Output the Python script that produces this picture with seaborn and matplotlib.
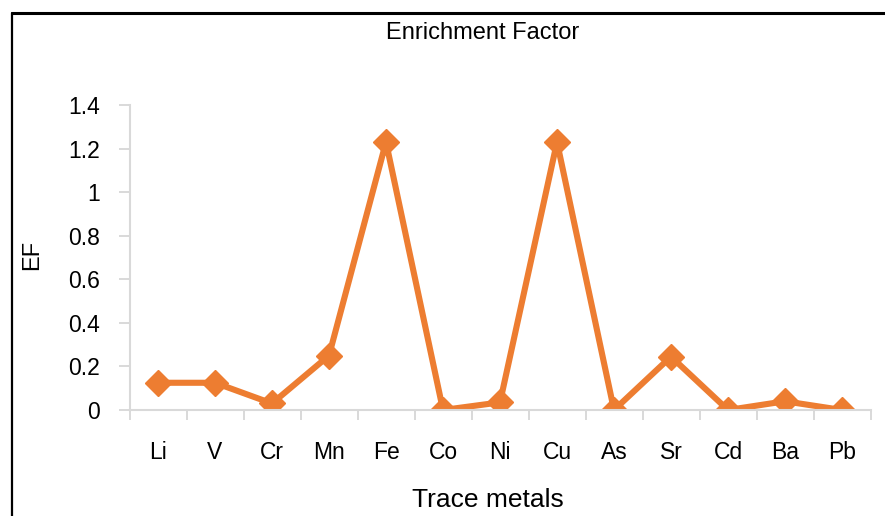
import matplotlib
matplotlib.use("Agg")
import matplotlib.pyplot as plt
import seaborn as sns
import pandas as pd
from matplotlib.lines import Line2D

metals = ["Li", "V", "Cr", "Mn", "Fe", "Co", "Ni", "Cu", "As", "Sr", "Cd", "Ba", "Pb"]
ef_values = [0.125, 0.125, 0.03, 0.25, 1.23, 0.0, 0.035, 1.23, 0.0, 0.245, 0.0, 0.04, 0.0]
y_ticks = [0, 0.2, 0.4, 0.6, 0.8, 1.0, 1.2, 1.4]
y_tick_labels = ["0", "0.2", "0.4", "0.6", "0.8", "1", "1.2", "1.4"]

sns.set_theme(style="white")
plt.rcParams["font.family"] = ["Liberation Sans", "DejaVu Sans"]
plt.rcParams["text.color"] = "black"
plt.rcParams["axes.labelcolor"] = "black"
plt.rcParams["xtick.labelcolor"] = "black"
plt.rcParams["ytick.labelcolor"] = "black"

df = pd.DataFrame({"metal": metals, "EF": ef_values, "pos": range(len(metals))})

fig = plt.figure(figsize=(8.85, 5.16), dpi=100)
W, H = 885, 516
ax = fig.add_axes([129.5 / W, 1 - 410 / H, (870.5 - 129.5) / W, (410 - 105) / H])

orange = "#ED7D31"
gray = "#D9D9D9"
sns.lineplot(data=df, x="pos", y="EF", ax=ax, color=orange, linewidth=4.4,
             marker="D", markersize=13, markeredgecolor=orange, markeredgewidth=1)

ax.set_xlim(-0.5, len(metals) - 0.5)
ax.set_ylim(0, 1.4)

# x axis: boundary ticks (major) and category labels (minor)
ax.set_xticks([i - 0.5 for i in range(len(metals) + 1)])
ax.set_xticklabels([])
ax.set_xticks(range(len(metals)), minor=True)
ax.set_xticklabels(metals, minor=True)
ax.tick_params(axis="x", which="major", bottom=True, length=7.5, width=1.4, color=gray)
ax.tick_params(axis="x", which="minor", bottom=True, length=0, pad=22, labelsize=16.5,
               labelcolor="black")

ax.set_yticks(y_ticks)
ax.set_yticklabels(y_tick_labels)
ax.tick_params(axis="y", which="major", left=True, length=8, width=1.4, color=gray,
               pad=13, labelsize=16.5, labelcolor="black")

for side in ["top", "right"]:
    ax.spines[side].set_visible(False)
for side in ["left", "bottom"]:
    ax.spines[side].set_color(gray)
    ax.spines[side].set_linewidth(1.5)
ax.grid(False)

ax.set_xlabel("Trace metals", fontsize=19, color="black")
ax.xaxis.set_label_coords(0.4835, -0.257)
ax.set_ylabel("EF", fontsize=17, color="black")
ax.yaxis.set_label_coords(-0.117, 0.51)
ax.set_title("Enrichment Factor", fontsize=17, y=1.19, x=0.477, color="black")

# chart frame (partial border)
fig.add_artist(Line2D([11.5 / W, 1.0], [1 - 13 / H, 1 - 13 / H], color="black", linewidth=2.2,
                      transform=fig.transFigure))
fig.add_artist(Line2D([11.5 / W, 11.5 / W], [0, 1 - 13 / H], color="black", linewidth=1.6,
                      transform=fig.transFigure))

fig.savefig("out.png", dpi=100)
